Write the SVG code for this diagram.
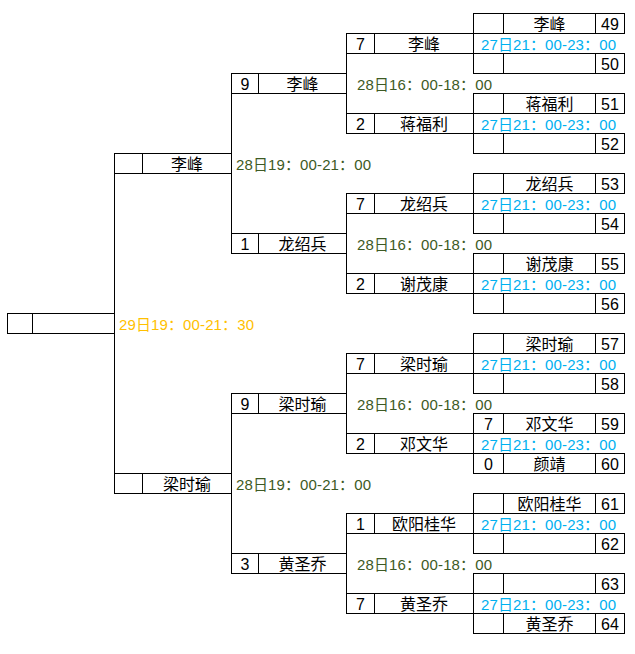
<svg xmlns="http://www.w3.org/2000/svg" width="635" height="654" viewBox="0 0 635 654">
<style>
rect,line{fill:none;stroke:#000;stroke-width:1;shape-rendering:crispEdges}
text{font-family:"Liberation Sans","Noto Sans CJK SC",sans-serif;font-size:16px;fill:#000;text-anchor:middle}
text.tm{font-size:15px;text-anchor:start}
.b{fill:#00B0F0}.g{fill:#3D5A24}.o{fill:#FFC000}
</style>
<rect x="0" y="0" width="635" height="654" style="fill:#fff;stroke:none"/>
<defs>
<g id="r4"><rect x="473.5" y="0.5" width="151" height="20"/><line x1="503.5" y1="0.5" x2="503.5" y2="20.5"/><line x1="595.5" y1="0.5" x2="595.5" y2="20.5"/></g>
<g id="r3"><rect x="346.5" y="0.5" width="127" height="20"/><line x1="374.5" y1="0.5" x2="374.5" y2="20.5"/></g>
<g id="r2"><rect x="231.5" y="0.5" width="115" height="20"/><line x1="258.5" y1="0.5" x2="258.5" y2="20.5"/></g>
<g id="r1"><rect x="114.5" y="0.5" width="117" height="20"/><line x1="142.5" y1="0.5" x2="142.5" y2="20.5"/></g>
</defs>
<g id="connectors">
<line x1="346.5" y1="53.5" x2="346.5" y2="113.5"/>
<line x1="346.5" y1="213.5" x2="346.5" y2="273.5"/>
<line x1="346.5" y1="373.5" x2="346.5" y2="433.5"/>
<line x1="346.5" y1="533.5" x2="346.5" y2="593.5"/>
<line x1="231.5" y1="93.5" x2="231.5" y2="233.5"/>
<line x1="231.5" y1="413.5" x2="231.5" y2="553.5"/>
<line x1="114.5" y1="173.5" x2="114.5" y2="473.5"/>
</g>
<g id="p49" transform="translate(0,13)"><use href="#r4"/><text x="549.5" y="17">李峰</text><text x="610" y="17">49</text></g>
<g id="p50" transform="translate(0,53)"><use href="#r4"/><text x="610" y="17">50</text></g>
<g id="p51" transform="translate(0,93)"><use href="#r4"/><text x="549.5" y="17">蒋福利</text><text x="610" y="17">51</text></g>
<g id="p52" transform="translate(0,133)"><use href="#r4"/><text x="610" y="17">52</text></g>
<g id="p53" transform="translate(0,173)"><use href="#r4"/><text x="549.5" y="17">龙绍兵</text><text x="610" y="17">53</text></g>
<g id="p54" transform="translate(0,213)"><use href="#r4"/><text x="610" y="17">54</text></g>
<g id="p55" transform="translate(0,253)"><use href="#r4"/><text x="549.5" y="17">谢茂康</text><text x="610" y="17">55</text></g>
<g id="p56" transform="translate(0,293)"><use href="#r4"/><text x="610" y="17">56</text></g>
<g id="p57" transform="translate(0,333)"><use href="#r4"/><text x="549.5" y="17">梁时瑜</text><text x="610" y="17">57</text></g>
<g id="p58" transform="translate(0,373)"><use href="#r4"/><text x="610" y="17">58</text></g>
<g id="p59" transform="translate(0,413)"><use href="#r4"/><text x="488.5" y="17">7</text><text x="549.5" y="17">邓文华</text><text x="610" y="17">59</text></g>
<g id="p60" transform="translate(0,453)"><use href="#r4"/><text x="488.5" y="17">0</text><text x="549.5" y="17">颜靖</text><text x="610" y="17">60</text></g>
<g id="p61" transform="translate(0,493)"><use href="#r4"/><text x="549.5" y="17">欧阳桂华</text><text x="610" y="17">61</text></g>
<g id="p62" transform="translate(0,533)"><use href="#r4"/><text x="610" y="17">62</text></g>
<g id="p63" transform="translate(0,573)"><use href="#r4"/><text x="610" y="17">63</text></g>
<g id="p64" transform="translate(0,613)"><use href="#r4"/><text x="549.5" y="17">黄圣乔</text><text x="610" y="17">64</text></g>

<g id="q1" transform="translate(0,33)"><use href="#r3"/><text x="360.5" y="17">7</text><text x="424" y="17">李峰</text><text class="tm b" x="481" y="16.5" textLength="135">27日21：00-23：00</text></g>
<g id="q2" transform="translate(0,113)"><use href="#r3"/><text x="360.5" y="17">2</text><text x="424" y="17">蒋福利</text><text class="tm b" x="481" y="16.5" textLength="135">27日21：00-23：00</text></g>
<g id="q3" transform="translate(0,193)"><use href="#r3"/><text x="360.5" y="17">7</text><text x="424" y="17">龙绍兵</text><text class="tm b" x="481" y="16.5" textLength="135">27日21：00-23：00</text></g>
<g id="q4" transform="translate(0,273)"><use href="#r3"/><text x="360.5" y="17">2</text><text x="424" y="17">谢茂康</text><text class="tm b" x="481" y="16.5" textLength="135">27日21：00-23：00</text></g>
<g id="q5" transform="translate(0,353)"><use href="#r3"/><text x="360.5" y="17">7</text><text x="424" y="17">梁时瑜</text><text class="tm b" x="481" y="16.5" textLength="135">27日21：00-23：00</text></g>
<g id="q6" transform="translate(0,433)"><use href="#r3"/><text x="360.5" y="17">2</text><text x="424" y="17">邓文华</text><text class="tm b" x="481" y="16.5" textLength="135">27日21：00-23：00</text></g>
<g id="q7" transform="translate(0,513)"><use href="#r3"/><text x="360.5" y="17">1</text><text x="424" y="17">欧阳桂华</text><text class="tm b" x="481" y="16.5" textLength="135">27日21：00-23：00</text></g>
<g id="q8" transform="translate(0,593)"><use href="#r3"/><text x="360.5" y="17">7</text><text x="424" y="17">黄圣乔</text><text class="tm b" x="481" y="16.5" textLength="135">27日21：00-23：00</text></g>

<g id="s1" transform="translate(0,73)"><use href="#r2"/><text x="245" y="17">9</text><text x="302.5" y="17">李峰</text><text class="tm g" x="357" y="16.5" textLength="135">28日16：00-18：00</text></g>
<g id="s2" transform="translate(0,233)"><use href="#r2"/><text x="245" y="17">1</text><text x="302.5" y="17">龙绍兵</text><text class="tm g" x="357" y="16.5" textLength="135">28日16：00-18：00</text></g>
<g id="s3" transform="translate(0,393)"><use href="#r2"/><text x="245" y="17">9</text><text x="302.5" y="17">梁时瑜</text><text class="tm g" x="357" y="16.5" textLength="135">28日16：00-18：00</text></g>
<g id="s4" transform="translate(0,553)"><use href="#r2"/><text x="245" y="17">3</text><text x="302.5" y="17">黄圣乔</text><text class="tm g" x="357" y="16.5" textLength="135">28日16：00-18：00</text></g>

<g id="f1" transform="translate(0,153)"><use href="#r1"/><text x="187" y="17">李峰</text><text class="tm g" x="236" y="16.5" textLength="135">28日19：00-21：00</text></g>
<g id="f2" transform="translate(0,473)"><use href="#r1"/><text x="187" y="17">梁时瑜</text><text class="tm g" x="236" y="16.5" textLength="135">28日19：00-21：00</text></g>

<g id="final" transform="translate(0,313)"><rect x="7.5" y="0.5" width="107" height="20"/><line x1="32.5" y1="0.5" x2="32.5" y2="20.5"/><text class="tm o" x="119" y="16.5" textLength="135">29日19：00-21：30</text></g>
</svg>
